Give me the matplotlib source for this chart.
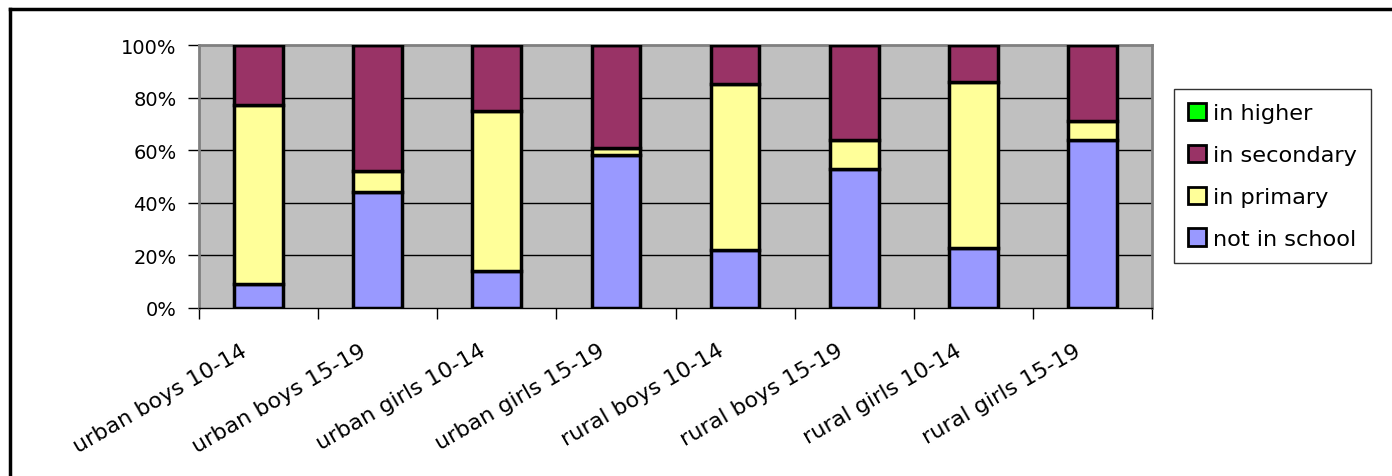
import numpy as np
import matplotlib
matplotlib.use("Agg")
import matplotlib.pyplot as plt
from matplotlib.ticker import FixedLocator
from matplotlib.transforms import ScaledTranslation

# values read from the stacked (100%) columns
groups = ["urban boys 10-14", "urban boys 15-19", "urban girls 10-14", "urban girls 15-19",
          "rural boys 10-14", "rural boys 15-19", "rural girls 10-14", "rural girls 15-19"]
not_in_school = [9, 44, 14, 58, 22, 53, 23, 64]
in_primary = [68, 8, 61, 3, 63, 11, 63, 7]
in_secondary = [23, 48, 25, 39, 15, 36, 14, 29]
in_higher = [0, 0, 0, 0, 0, 0, 0, 0]
y_ticks = [0, 20, 40, 60, 80, 100]

fig = plt.figure(figsize=(13.92, 4.77), dpi=100)
ax = fig.add_axes([199 / 1392, 1 - 309 / 477, (1152 - 199) / 1392, (309 - 46) / 477])
ax.set_facecolor("#c0c0c0")

x = np.arange(len(groups))
bottom = np.zeros(len(groups))
series = [
    (not_in_school, "#9999ff", "not in school"),
    (in_primary, "#ffff99", "in primary"),
    (in_secondary, "#993366", "in secondary"),
    (in_higher, "#00ff00", "in higher"),
]
handles = []
for vals, col, lab in series:
    b = ax.bar(x, vals, bottom=bottom, width=0.41, color=col, edgecolor="black",
               linewidth=2.5, label=lab, zorder=3)
    handles.append(b)
    bottom += np.array(vals)

ax.set_xlim(-0.5, len(groups) - 0.5)
ax.set_ylim(0, 100)

# grid
ax.set_yticks(y_ticks)
ax.set_yticklabels([f"{v}%" for v in y_ticks], fontsize=14)
for v in y_ticks[1:-1]:
    ax.axhline(v, color="black", linewidth=1, zorder=1)

ax.xaxis.set_major_locator(FixedLocator(np.arange(len(groups) + 1) - 0.5))
ax.xaxis.set_major_formatter(plt.NullFormatter())
ax.xaxis.set_minor_locator(FixedLocator(x))
ax.set_xticklabels(groups, minor=True, rotation=30, ha="right", rotation_mode="anchor",
                   fontsize=16)
ax.tick_params(axis="x", which="major", length=8, width=1, color="black", direction="out")
ax.tick_params(axis="x", which="minor", length=0, pad=23)
ax.tick_params(axis="y", length=8, width=1, color="black", pad=8)
shift = ScaledTranslation(-18 / 100, 0, fig.dpi_scale_trans)
for lbl in ax.get_xticklabels(minor=True):
    lbl.set_transform(lbl.get_transform() + shift)

for side in ["top", "right", "left"]:
    ax.spines[side].set_color("#808080")
    ax.spines[side].set_linewidth(2)
ax.spines["bottom"].set_color("black")
ax.spines["bottom"].set_linewidth(1)

leg = fig.legend(handles[::-1], [s[2] for s in series][::-1],
                 loc="upper left", bbox_to_anchor=(1174 / 1392, 1 - 90 / 477),
                 fontsize=16.2, frameon=True, fancybox=False, edgecolor="black",
                 handlelength=0.8, handleheight=0.8, handletextpad=0.3,
                 labelspacing=0.95, borderpad=0.62, borderaxespad=0)
leg.get_frame().set_linewidth(1)
for h in leg.legend_handles:
    h.set_linewidth(2)

# outer chart border (only top and left visible in the crop)
fig.add_artist(plt.Line2D([10 / 1392, 10 / 1392], [0, 1 - 10 / 477], color="black", linewidth=2.5))
fig.add_artist(plt.Line2D([10 / 1392, 1], [1 - 10 / 477, 1 - 10 / 477], color="black", linewidth=2.5))

fig.savefig("out.png", dpi=100)
